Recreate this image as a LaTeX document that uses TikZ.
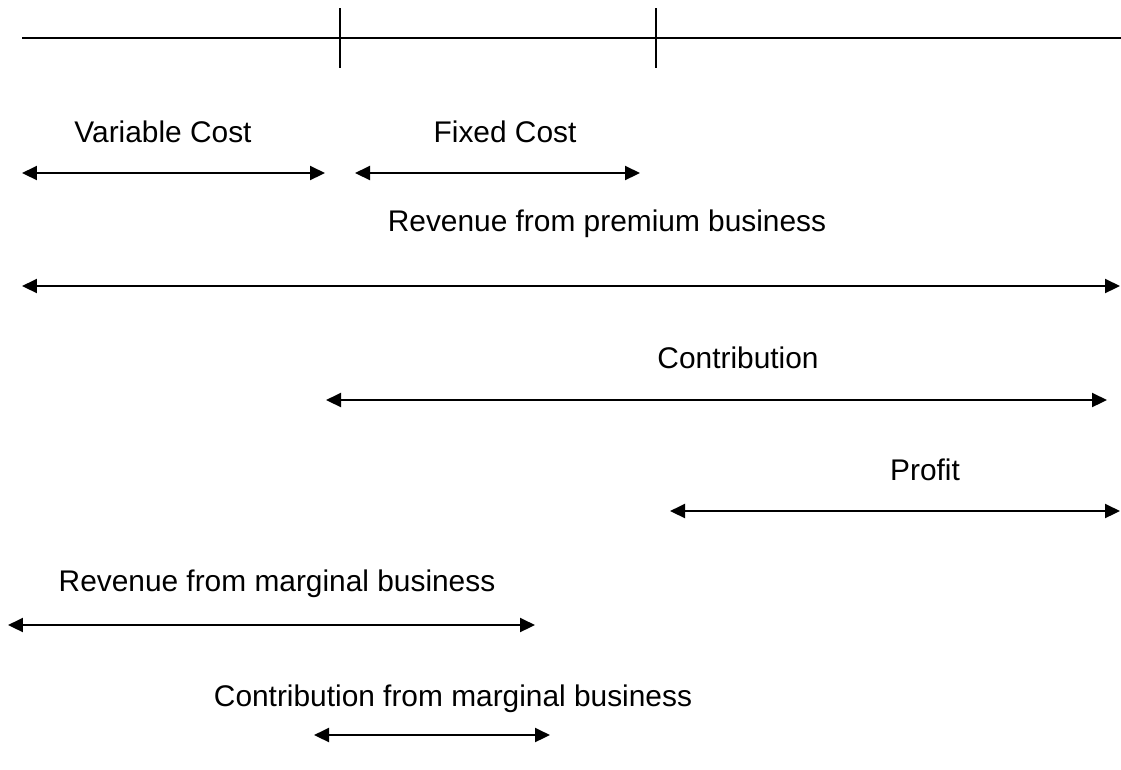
\documentclass[tikz,border=0pt]{standalone}
\usepackage{fontspec}
\setmainfont{Liberation Sans}
\usetikzlibrary{arrows.meta}

\begin{document}
\begin{tikzpicture}[x=0.02cm,y=-0.02cm,
    lbl/.style={anchor=base, inner sep=0pt, font=\fontsize{17}{20}\selectfont},
    span/.style={{Triangle[length=0.3cm,width=0.28cm]}-{Triangle[length=0.3cm,width=0.28cm]}, line width=1.2pt}]
  \useasboundingbox (0,0) rectangle (1121,769);

  % scale line with the two break points
  \coordinate (axisL) at (22,38);
  \coordinate (axisR) at (1121,38);
  \coordinate (brk1top) at (340,8);
  \coordinate (brk1bot) at (340,68);
  \coordinate (brk2top) at (656,8);
  \coordinate (brk2bot) at (656,68);
  \draw[line width=0.85pt] (axisL) -- (axisR);
  \draw[line width=0.85pt] (brk1top) -- (brk1bot);
  \draw[line width=0.85pt] (brk2top) -- (brk2bot);

  % labels
  \node[lbl] (varcost) at (163,142) {Variable Cost};
  \node[lbl] (fixcost) at (505,142) {Fixed Cost};
  \node[lbl] (premium) at (607,231) {Revenue from premium business};
  \node[lbl] (contrib) at (738,368) {Contribution};
  \node[lbl] (profit) at (925,480) {Profit};
  \node[lbl] (margrev) at (277,591) {Revenue from marginal business};
  \node[lbl] (margcon) at (453,706) {Contribution from marginal business};

  % span end points
  \coordinate (varL) at (22,173);
  \coordinate (varR) at (325,173);
  \coordinate (fixL) at (355,173);
  \coordinate (fixR) at (640,173);
  \coordinate (premL) at (22,286);
  \coordinate (premR) at (1120,286);
  \coordinate (conL) at (326,400);
  \coordinate (conR) at (1107,400);
  \coordinate (profL) at (670,511);
  \coordinate (profR) at (1120,511);
  \coordinate (mrevL) at (8,625);
  \coordinate (mrevR) at (535,625);
  \coordinate (mconL) at (314,735);
  \coordinate (mconR) at (550,735);

  \draw[span] (varL) -- (varR);
  \draw[span] (fixL) -- (fixR);
  \draw[span] (premL) -- (premR);
  \draw[span] (conL) -- (conR);
  \draw[span] (profL) -- (profR);
  \draw[span] (mrevL) -- (mrevR);
  \draw[span] (mconL) -- (mconR);
\end{tikzpicture}
\end{document}
